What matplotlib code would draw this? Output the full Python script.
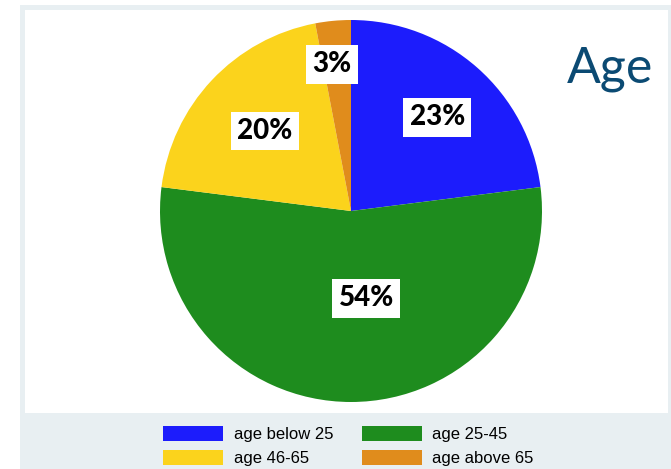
import numpy as np
import matplotlib
matplotlib.use("Agg")
import matplotlib.pyplot as plt
from matplotlib.patches import Rectangle, Patch

# data
labels = ["age below 25", "age 25-45", "age 46-65", "age above 65"]
shares = [23, 54, 20, 3]
colors = ["#1c1cfc", "#1e8c1e", "#fbd31c", "#e08c1c"]
# where each percent label sits: radius fraction and angle shift from wedge middle
label_r = [0.67, 0.46, 0.62, 0.78]
label_dtheta = [-1, 10, 0, 2]
legend_order = [0, 2, 1, 3]  # column-wise fill for ncol=2

fig = plt.figure(figsize=(6.71, 4.69), dpi=100)
fig.patch.set_facecolor("white")

# slide-like background panels
fig.patches.append(Rectangle((20 / 671, 0), 1, 464 / 469, transform=fig.transFigure,
                             facecolor="#e8eff2", edgecolor="none", zorder=-2))
fig.patches.append(Rectangle((25 / 671, 56 / 469), 643 / 671, 403 / 469,
                             transform=fig.transFigure, facecolor="white",
                             edgecolor="none", zorder=-1))

ax = fig.add_axes([(351 - 191) / 671, (469 - 211 - 191) / 469, 382 / 671, 382 / 469])
ax.set_zorder(2)
ax.set_facecolor("none")
wedges, _ = ax.pie(shares, colors=colors, startangle=90, counterclock=False,
                   radius=1, wedgeprops=dict(linewidth=0))
ax.set_xlim(-1, 1)
ax.set_ylim(-1, 1)
ax.axis("off")

for w, s, r, dt in zip(wedges, shares, label_r, label_dtheta):
    mid = np.deg2rad((w.theta1 + w.theta2) / 2 + dt)
    ax.text(r * np.cos(mid), r * np.sin(mid) - 0.005, f"{s}%", ha="center", va="center",
            fontsize=20, fontweight="black", family="Lato", color="black",
            bbox=dict(facecolor="white", edgecolor="none", pad=4.5))

fig.text(567 / 671, 1 - 82 / 469, "Age", fontsize=36, family="Lato",
         color="#0b4a73", va="baseline", ha="left")

handles = [Patch(facecolor=colors[i], edgecolor="none") for i in legend_order]
fig.legend(handles, [labels[i] for i in legend_order], ncol=2, frameon=False,
           loc="upper left", bbox_to_anchor=(163 / 671, 1 - 426 / 469),
           borderaxespad=0, borderpad=0,
           prop={"family": "Liberation Sans", "size": 12},
           handlelength=3.6, handleheight=1.05, handletextpad=0.65,
           columnspacing=1.7, labelspacing=0.45)

fig.savefig("out.png", dpi=100)
